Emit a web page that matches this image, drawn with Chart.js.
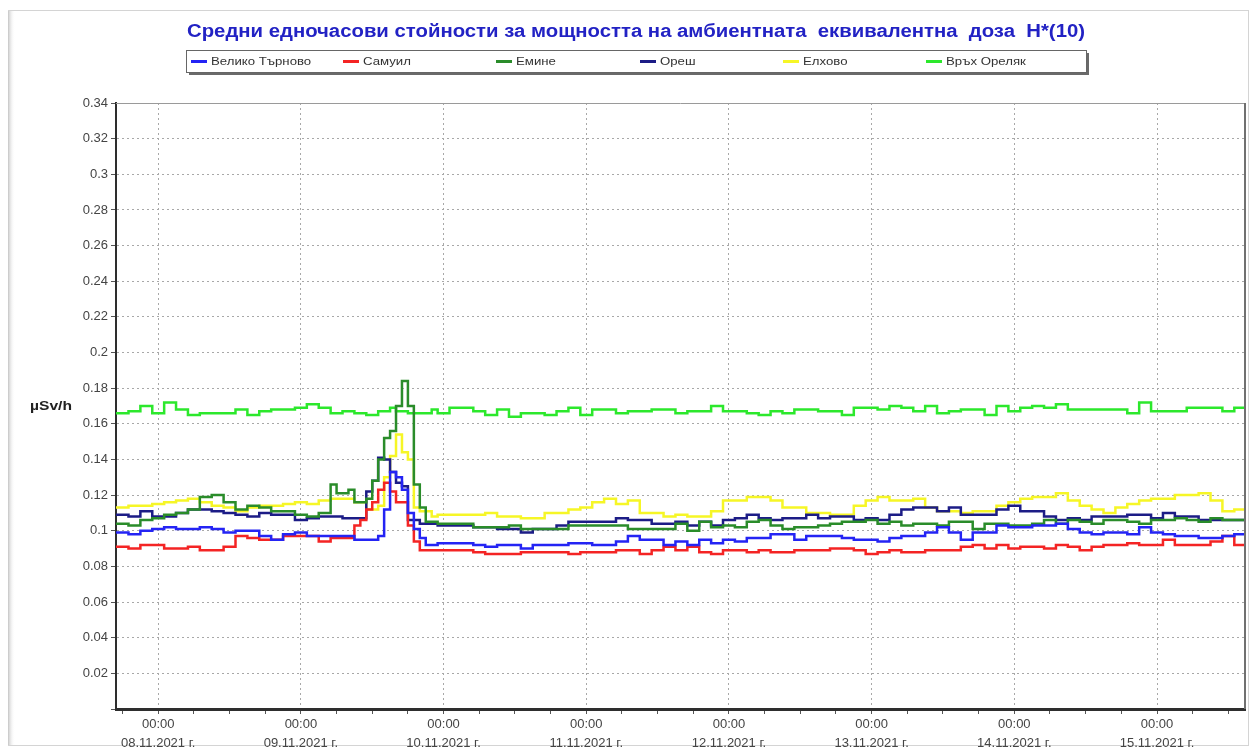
<!DOCTYPE html>
<html lang="bg">
<head>
<meta charset="utf-8">
<title>Мощност на амбиентната еквивалентна доза</title>
<script src="https://cdn.jsdelivr.net/npm/chart.js@4.4.1/dist/chart.umd.min.js"></script>
<style>
    html, body { margin: 0; padding: 0; background: #fff; }
    #wrap { width: 1252px; height: 751px; position: relative; }
</style>
</head>
<body>
<div id="wrap"><canvas id="doseChart"></canvas></div>
<script>
const chartTitle = 'Средни едночасови стойности за мощността на амбиентната  еквивалентна  доза  H*(10)';
const unitLabel = 'µSv/h';
const firstDay = 8; // 08.11.2021 00:00 is hour 0

// Hours since 08.11.2021 00:00 (hourly around the 09.11 evening peak)
const hours = [
    -8, -5, -3, -1, 1, 3, 5, 7, 9, 11, 13, 15, 17, 19, 21, 23, 25, 27, 29,
    30, 31, 32, 33, 34, 35, 36, 37, 38, 39, 40, 41, 42, 43, 44, 45, 46, 47,
    49, 51, 53, 55, 57, 59, 61, 63, 65, 67, 69, 71,
    73, 75, 77, 79, 81, 83, 85, 87, 89, 91, 93, 95,
    97, 99, 101, 103, 105, 107, 109, 111, 113, 115, 117, 119,
    121, 123, 125, 127, 129, 131, 133, 135, 137, 139, 141, 143,
    145, 147, 149, 151, 153, 155, 157, 159, 161, 163, 165, 167,
    169, 171, 173, 175, 177, 179, 181, 183
];

const stations = ['Велико Търново', 'Самуил', 'Емине', 'Ореш', 'Елхово', 'Връх Ореляк'];
const colors = ['#2424f4', '#f42424', '#2a8c2a', '#1c1c86', '#f6f626', '#2ce82c'];

const velikoTarnovo = [
    0.100, 0.099, 0.098, 0.100, 0.101, 0.102, 0.101, 0.101, 0.102, 0.101, 0.099, 0.100, 0.100, 0.097, 0.095, 0.098, 0.099, 0.097, 0.097,
    0.097, 0.097, 0.097, 0.097, 0.095, 0.095, 0.095, 0.095, 0.097, 0.112, 0.133, 0.130, 0.123, 0.110, 0.101, 0.096, 0.092, 0.092,
    0.093, 0.093, 0.093, 0.092, 0.091, 0.092, 0.092, 0.090, 0.092, 0.092, 0.092, 0.093,
    0.093, 0.092, 0.092, 0.094, 0.097, 0.095, 0.095, 0.092, 0.094, 0.092, 0.095, 0.093,
    0.095, 0.094, 0.096, 0.096, 0.098, 0.098, 0.095, 0.097, 0.097, 0.097, 0.096, 0.095,
    0.095, 0.094, 0.096, 0.097, 0.097, 0.099, 0.102, 0.099, 0.095, 0.099, 0.099, 0.103,
    0.102, 0.102, 0.103, 0.103, 0.104, 0.101, 0.099, 0.098, 0.099, 0.099, 0.098, 0.102,
    0.099, 0.098, 0.097, 0.097, 0.096, 0.096, 0.097, 0.098
];

const samuil = [
    0.091, 0.091, 0.090, 0.092, 0.092, 0.090, 0.090, 0.091, 0.089, 0.089, 0.091, 0.097, 0.096, 0.095, 0.095, 0.097, 0.097, 0.097, 0.094,
    0.096, 0.096, 0.096, 0.096, 0.103, 0.106, 0.112, 0.116, 0.123, 0.127, 0.122, 0.116, 0.116, 0.103, 0.094, 0.089, 0.089, 0.089,
    0.089, 0.089, 0.089, 0.088, 0.087, 0.087, 0.087, 0.088, 0.088, 0.088, 0.088, 0.087,
    0.088, 0.088, 0.088, 0.089, 0.089, 0.087, 0.089, 0.091, 0.089, 0.091, 0.088, 0.087,
    0.089, 0.089, 0.088, 0.089, 0.088, 0.088, 0.089, 0.089, 0.089, 0.090, 0.090, 0.089,
    0.087, 0.088, 0.089, 0.088, 0.088, 0.089, 0.089, 0.089, 0.091, 0.092, 0.090, 0.092,
    0.090, 0.091, 0.091, 0.090, 0.092, 0.091, 0.089, 0.091, 0.092, 0.092, 0.093, 0.092,
    0.092, 0.095, 0.092, 0.092, 0.092, 0.094, 0.097, 0.092
];

const emine = [
    0.106, 0.104, 0.103, 0.106, 0.107, 0.109, 0.110, 0.112, 0.119, 0.120, 0.116, 0.112, 0.114, 0.113, 0.111, 0.111, 0.109, 0.108, 0.110,
    0.126, 0.121, 0.121, 0.123, 0.116, 0.116, 0.118, 0.128, 0.140, 0.152, 0.156, 0.170, 0.184, 0.170, 0.126, 0.113, 0.105, 0.105,
    0.104, 0.104, 0.104, 0.102, 0.102, 0.102, 0.103, 0.101, 0.101, 0.101, 0.101, 0.103,
    0.103, 0.103, 0.103, 0.103, 0.101, 0.101, 0.101, 0.101, 0.104, 0.100, 0.105, 0.102,
    0.103, 0.102, 0.105, 0.106, 0.103, 0.101, 0.102, 0.102, 0.103, 0.104, 0.105, 0.105,
    0.106, 0.104, 0.105, 0.103, 0.104, 0.104, 0.103, 0.105, 0.105, 0.101, 0.104, 0.104,
    0.103, 0.103, 0.104, 0.106, 0.104, 0.106, 0.105, 0.104, 0.106, 0.106, 0.105, 0.104,
    0.106, 0.106, 0.107, 0.106, 0.105, 0.107, 0.106, 0.106
];

const oresh = [
    0.105, 0.109, 0.108, 0.111, 0.108, 0.108, 0.110, 0.112, 0.112, 0.111, 0.110, 0.109, 0.108, 0.110, 0.109, 0.109, 0.106, 0.107, 0.108,
    0.108, 0.108, 0.107, 0.107, 0.107, 0.107, 0.122, 0.128, 0.141, 0.140, 0.133, 0.127, 0.125, 0.106, 0.106, 0.104, 0.104, 0.104,
    0.103, 0.103, 0.103, 0.102, 0.102, 0.101, 0.101, 0.099, 0.101, 0.101, 0.103, 0.105,
    0.105, 0.105, 0.105, 0.107, 0.106, 0.106, 0.104, 0.104, 0.105, 0.103, 0.105, 0.103,
    0.106, 0.107, 0.109, 0.107, 0.106, 0.107, 0.107, 0.109, 0.107, 0.108, 0.108, 0.106,
    0.107, 0.106, 0.109, 0.112, 0.113, 0.113, 0.111, 0.113, 0.109, 0.109, 0.109, 0.112,
    0.114, 0.111, 0.111, 0.108, 0.106, 0.107, 0.106, 0.108, 0.108, 0.108, 0.109, 0.109,
    0.107, 0.110, 0.108, 0.108, 0.106, 0.106, 0.106, 0.106
];

const elhovo = [
    0.112, 0.113, 0.114, 0.114, 0.115, 0.116, 0.117, 0.118, 0.116, 0.114, 0.113, 0.111, 0.113, 0.114, 0.114, 0.115, 0.116, 0.115, 0.117,
    0.118, 0.118, 0.118, 0.118, 0.116, 0.116, 0.112, 0.112, 0.114, 0.130, 0.142, 0.154, 0.144, 0.140, 0.113, 0.111, 0.111, 0.108,
    0.109, 0.109, 0.109, 0.109, 0.110, 0.108, 0.108, 0.107, 0.107, 0.110, 0.110, 0.112,
    0.113, 0.116, 0.118, 0.115, 0.117, 0.110, 0.110, 0.108, 0.109, 0.108, 0.108, 0.111,
    0.117, 0.117, 0.119, 0.119, 0.117, 0.113, 0.113, 0.110, 0.110, 0.109, 0.109, 0.114,
    0.117, 0.119, 0.117, 0.117, 0.118, 0.113, 0.111, 0.111, 0.110, 0.111, 0.111, 0.114,
    0.116, 0.118, 0.119, 0.119, 0.121, 0.117, 0.114, 0.112, 0.110, 0.113, 0.115, 0.117,
    0.118, 0.118, 0.120, 0.120, 0.121, 0.117, 0.111, 0.112
];

const vrahOrelyak = [
    0.166, 0.166, 0.167, 0.170, 0.166, 0.172, 0.168, 0.165, 0.166, 0.166, 0.166, 0.168, 0.165, 0.167, 0.168, 0.168, 0.169, 0.171, 0.169,
    0.166, 0.166, 0.167, 0.167, 0.166, 0.166, 0.165, 0.165, 0.167, 0.167, 0.169, 0.167, 0.167, 0.166, 0.166, 0.166, 0.166, 0.168,
    0.166, 0.169, 0.169, 0.167, 0.165, 0.168, 0.164, 0.166, 0.166, 0.165, 0.167, 0.169,
    0.165, 0.168, 0.168, 0.166, 0.167, 0.167, 0.168, 0.168, 0.166, 0.167, 0.167, 0.170,
    0.167, 0.167, 0.166, 0.165, 0.167, 0.166, 0.168, 0.168, 0.167, 0.167, 0.165, 0.169,
    0.169, 0.168, 0.170, 0.169, 0.167, 0.170, 0.166, 0.167, 0.168, 0.168, 0.165, 0.170,
    0.167, 0.169, 0.170, 0.169, 0.171, 0.168, 0.168, 0.168, 0.168, 0.168, 0.166, 0.172,
    0.167, 0.167, 0.167, 0.169, 0.169, 0.169, 0.167, 0.169
];

const series = [velikoTarnovo, samuil, emine, oresh, elhovo, vrahOrelyak];

const FONT = "'Liberation Sans', Arial, sans-serif";

// Text drawn slightly wider than the font's natural width
function wideText(ctx, text, x, y, stretch) {
    ctx.save();
    ctx.translate(x, y);
    ctx.scale(stretch, 1);
    ctx.fillText(text, 0, 0);
    ctx.restore();
}

// Page frame, chart title, legend box, unit label and the plot box outline
const decorations = {
    id: 'decorations',
    beforeDraw(chart) {
        const ctx = chart.ctx;
        ctx.save();
        ctx.fillStyle = '#fff';
        ctx.fillRect(0, 0, chart.width, chart.height);
        // soft bevelled frame
        ctx.strokeStyle = '#d4d4d4';
        ctx.lineWidth = 1;
        ctx.strokeRect(8.5, 10.5, 1240, 735);
        const g = ctx.createLinearGradient(8, 0, 15, 0);
        g.addColorStop(0, '#c8c8c8');
        g.addColorStop(1, 'rgba(255,255,255,0)');
        ctx.fillStyle = g;
        ctx.fillRect(8, 11, 7, 734);
        ctx.restore();
    },
    afterDraw(chart) {
        const ctx = chart.ctx;
        const area = chart.chartArea;
        ctx.save();

        // title, stretched to span 187..1085
        ctx.font = 'bold 18px ' + FONT;
        ctx.fillStyle = '#2222c4';
        ctx.textAlign = 'center';
        ctx.textBaseline = 'middle';
        const tw = ctx.measureText(chartTitle).width;
        wideText(ctx, chartTitle, 636, 32, 898 / tw);

        // legend box with a drop shadow
        const lx = 186, ly = 50, lw = 900, lh = 22;
        ctx.fillStyle = '#6a6a6a';
        ctx.fillRect(lx + 3, ly + 3, lw, lh);
        ctx.fillStyle = '#fff';
        ctx.fillRect(lx, ly, lw, lh);
        ctx.strokeStyle = '#666';
        ctx.lineWidth = 1;
        ctx.strokeRect(lx + 0.5, ly + 0.5, lw, lh);

        const itemX = [191, 343, 496, 640, 783, 926];
        ctx.font = '11px ' + FONT;
        ctx.textAlign = 'left';
        chart.data.datasets.forEach((ds, i) => {
            const x = itemX[i];
            const y = ly + lh / 2 + 0.5;
            ctx.strokeStyle = ds.borderColor;
            ctx.lineWidth = 3;
            ctx.beginPath();
            ctx.moveTo(x, y);
            ctx.lineTo(x + 16, y);
            ctx.stroke();
            ctx.fillStyle = '#333';
            wideText(ctx, ds.label, x + 20, y, 1.2);
        });

        // unit label left of the value axis
        ctx.font = 'bold 13px ' + FONT;
        ctx.fillStyle = '#222';
        ctx.textAlign = 'left';
        wideText(ctx, unitLabel, 30, (area.top + area.bottom) / 2, 1.2);

        // top and right edges of the plot box
        ctx.strokeStyle = '#9a9a9a';
        ctx.lineWidth = 1;
        ctx.beginPath();
        ctx.moveTo(area.left, area.top + 0.5);
        ctx.lineTo(area.right, area.top + 0.5);
        ctx.stroke();
        ctx.strokeStyle = '#707070';
        ctx.lineWidth = 2;
        ctx.beginPath();
        ctx.moveTo(area.right, area.top);
        ctx.lineTo(area.right, area.bottom);
        ctx.stroke();
        ctx.restore();
    }
};

const datasets = stations.map((name, i) => ({
    label: name,
    data: hours.map((h, k) => ({ x: h, y: series[i][k] })),
    borderColor: colors[i],
    backgroundColor: colors[i],
    borderWidth: 2.5,
    stepped: 'after',
    pointRadius: 0,
    fill: false
}));

Chart.defaults.font.family = FONT;

new Chart(document.getElementById('doseChart'), {
    type: 'line',
    data: { datasets: datasets },
    options: {
        responsive: true,
        maintainAspectRatio: false,
        animation: false,
        layout: { padding: { top: 103, right: 7, left: 0, bottom: 0 } },
        plugins: {
            legend: { display: false },
            title: { display: false },
            tooltip: { enabled: false }
        },
        scales: {
            x: {
                type: 'linear',
                min: -7.1,
                max: 182.8,
                afterBuildTicks(axis) {
                    const ticks = [];
                    for (let v = Math.ceil(axis.min / 6) * 6; v <= axis.max; v += 6) ticks.push({ value: v });
                    axis.ticks = ticks;
                },
                afterFit(axis) { axis.height = 42; },
                ticks: {
                    autoSkip: false,
                    maxRotation: 0,
                    padding: 1,
                    color: '#444',
                    font: { size: 13, lineHeight: 1.45 },
                    callback(value) {
                        if (value % 24 !== 0) return '';
                        const day = String(firstDay + value / 24).padStart(2, '0');
                        return ['00:00', day + '.11.2021 г.'];
                    }
                },
                grid: {
                    color: c => (c.tick && c.tick.value % 24 === 0) ? '#a8a8a8' : 'rgba(0,0,0,0)',
                    tickColor: '#555',
                    tickLength: 5
                },
                border: { display: true, color: '#2e2e2e', width: 3, dash: [2, 3] }
            },
            y: {
                min: 0,
                max: 0.34,
                afterBuildTicks(axis) {
                    const ticks = [];
                    for (let k = 0; k <= 17; k++) ticks.push({ value: k * 0.02 });
                    axis.ticks = ticks;
                },
                afterFit(axis) { axis.width = 116; },
                ticks: {
                    padding: 3,
                    color: '#444',
                    font: { size: 13 },
                    callback: v => v === 0 ? '' : String(+v.toFixed(2))
                },
                grid: {
                    color: '#a8a8a8',
                    tickColor: '#555',
                    tickLength: 5
                },
                border: { display: true, color: '#2e2e2e', width: 2, dash: [2, 3] }
            }
        }
    },
    plugins: [decorations]
});
</script>
</body>
</html>
